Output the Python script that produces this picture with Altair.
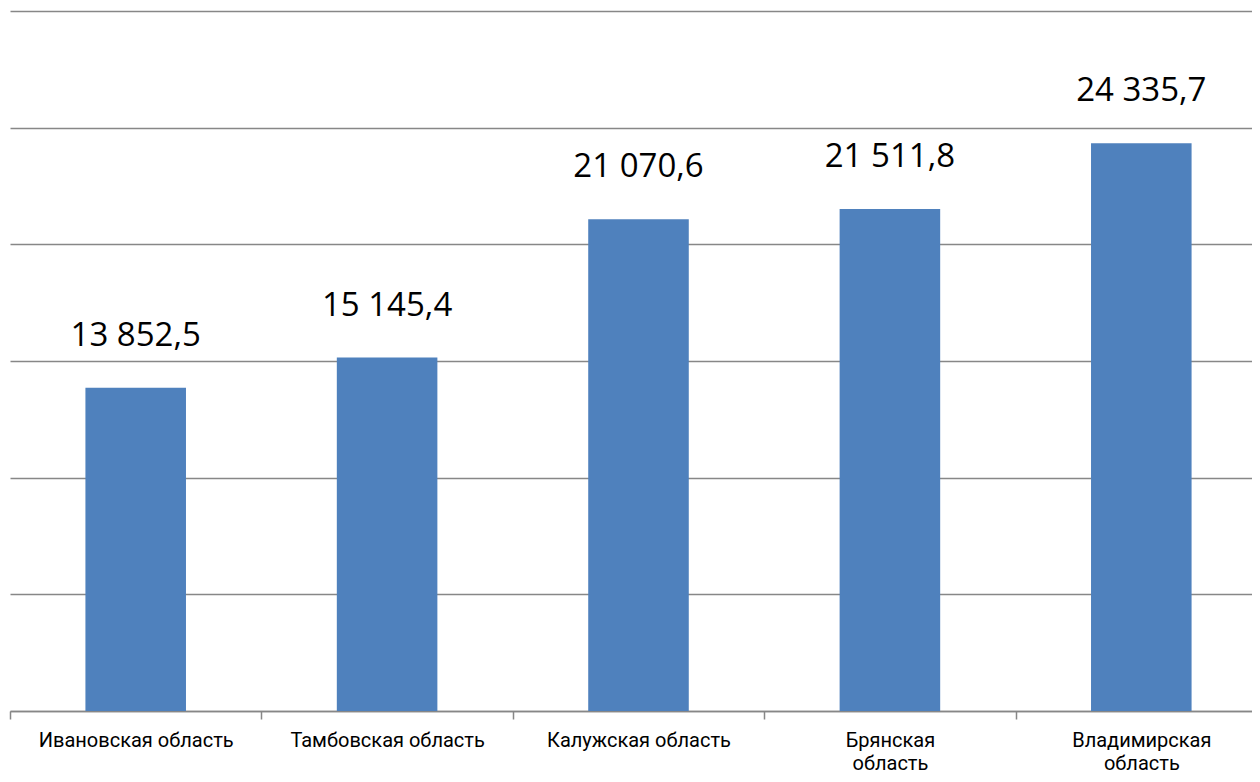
import altair as alt
import pandas as pd

regions = ["Ивановская область", "Тамбовская область", "Калужская область",
           "Брянская область", "Владимирская область"]
values = [13852.5, 15145.4, 21070.6, 21511.8, 24335.7]
labels = ["13 852,5", "15 145,4", "21 070,6", "21 511,8", "24 335,7"]

df = pd.DataFrame({"region": regions, "value": values, "label": labels})

FONT = "Open Sans"
AXFONT = "Roboto"
GRID = "#878787"

xscale = alt.Scale(paddingInner=0, paddingOuter=0, range=[0, 1257])
x = alt.X("region:N", sort=regions, title=None, scale=xscale,
          axis=alt.Axis(labelAngle=0, tickBand="extent", tickSize=8,
                        tickColor=GRID, tickWidth=1.5,
                        domainColor=GRID, domainWidth=1.5,
                        labelFont=AXFONT, labelFontSize=20, labelColor="#000000",
                        labelPadding=27, labelLineHeight=23.5, labelLimit=0,
                        labelBaseline="alphabetic",
                        labelExpr="datum.value == 'Брянская область' || datum.value == 'Владимирская область' ? split(datum.value, ' ') : datum.value"))
y = alt.Y("value:Q", title=None,
          scale=alt.Scale(domain=[0, 30000], nice=False),
          axis=alt.Axis(values=[0, 5000, 10000, 15000, 20000, 25000, 30000],
                        labels=False, ticks=False, domain=False,
                        grid=True, gridColor=GRID, gridWidth=1.5))

bars = alt.Chart(df).mark_bar(color="#4F81BD", width=alt.RelativeBandSize(0.4)).encode(x=x, y=y)
text = alt.Chart(df).mark_text(font=FONT, fontSize=33, color="#000000",
                               baseline="alphabetic", dy=-42).encode(
    x=alt.X("region:N", sort=regions, scale=xscale), y="value:Q", text="label:N")

chart = alt.layer(bars, text).properties(
    width=1242, height=700,
    autosize=alt.AutoSizeParams(type="none"),
    padding={"left": 2, "top": 3, "right": 0, "bottom": 63},
).configure(background="#ffffff").configure_view(stroke=None)

chart.save("out.html", embed_options={"renderer": "svg", "actions": False})
